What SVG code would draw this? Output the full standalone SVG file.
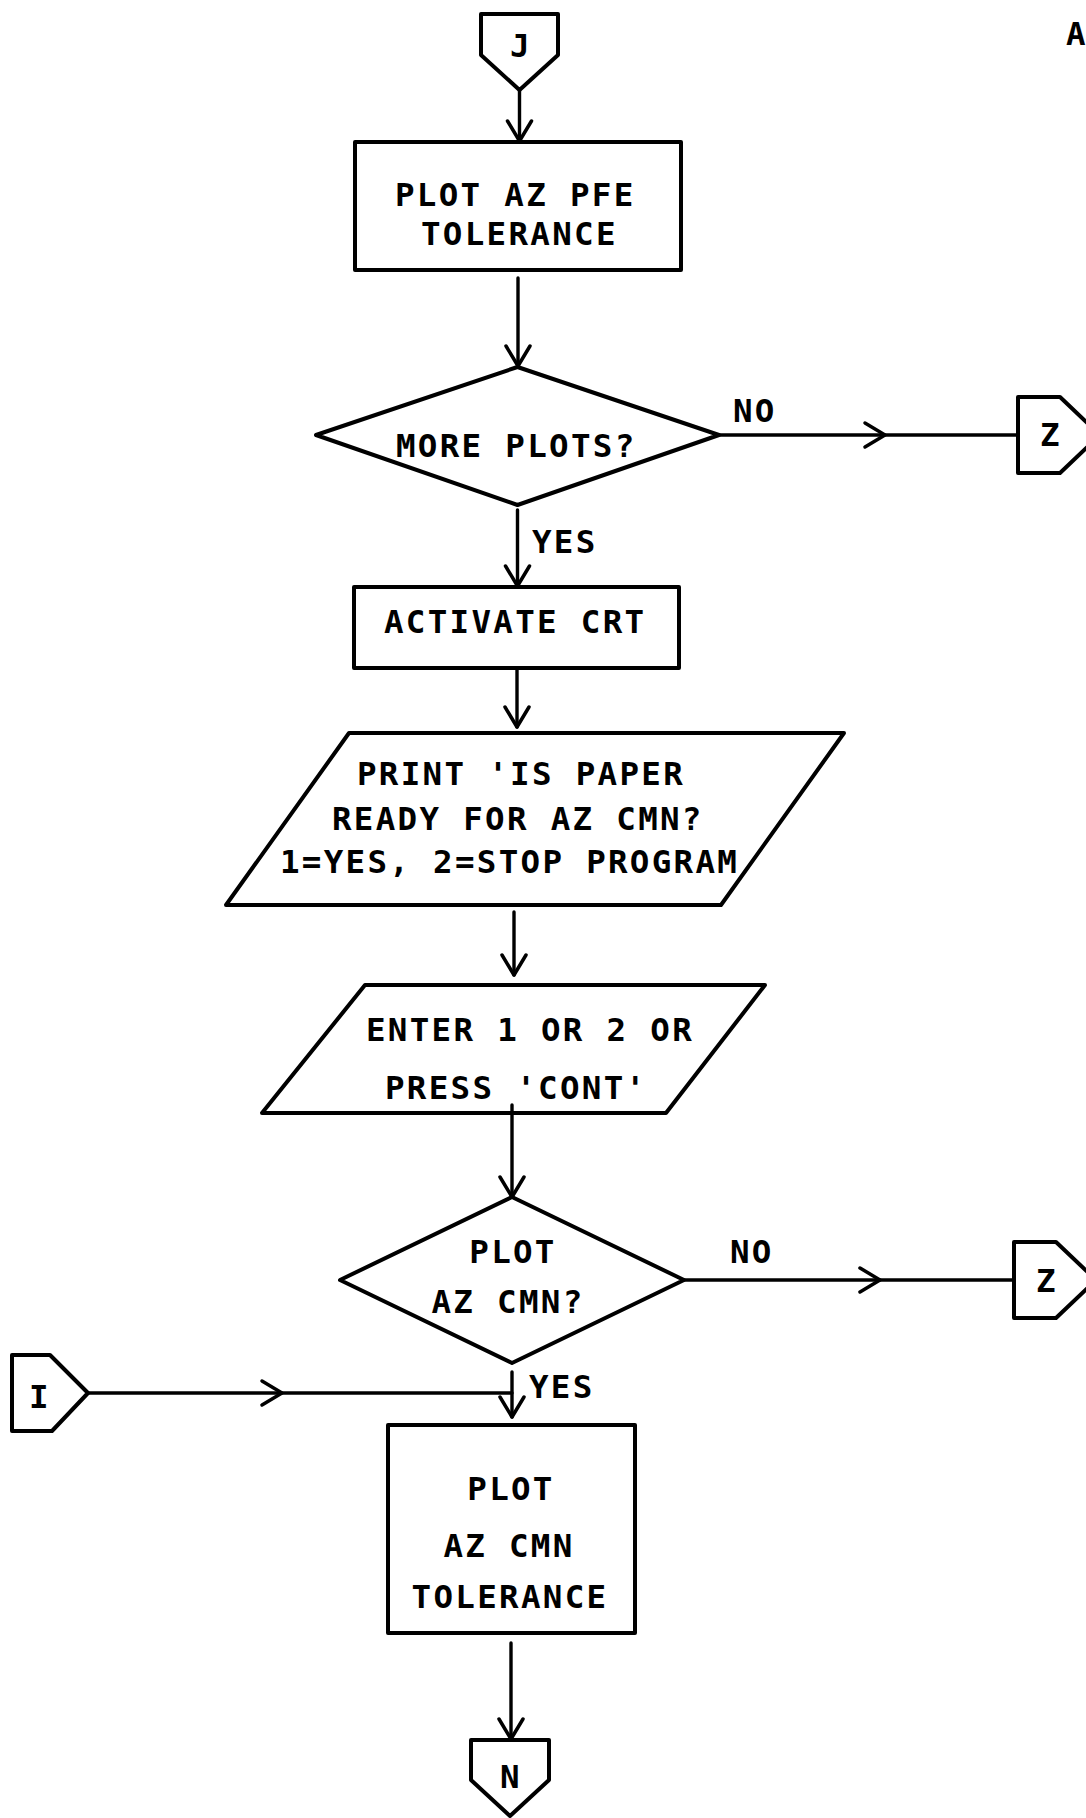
<svg xmlns="http://www.w3.org/2000/svg" width="1086" height="1818" viewBox="0 0 1086 1818">
<style>
.s{fill:none;stroke:#000;stroke-width:4;stroke-linejoin:round;stroke-linecap:round}
.c{fill:none;stroke:#000;stroke-width:3.4;stroke-linecap:round}
text{font-family:"DejaVu Sans Mono","Liberation Mono",monospace;font-weight:bold;font-size:32.5px;letter-spacing:2.3px;fill:#000}
.m{text-anchor:middle}
</style>
<defs>
<marker id="ah" markerUnits="userSpaceOnUse" viewBox="-22 -14 26 28" refX="0" refY="0" markerWidth="26" markerHeight="28" orient="auto" overflow="visible">
<path d="M-20,-12 L0,0 L-20,12" fill="none" stroke="#000" stroke-width="3.5" stroke-linecap="round" stroke-linejoin="round"/>
</marker>
</defs>
<rect width="1086" height="1818" fill="#fff"/>
<text x="1066" y="45">A</text>
<g id="connectors">
<path class="c" d="M519.5,90 L519.5,141" marker-end="url(#ah)"/>
<path class="c" d="M518,278 L518,366" marker-end="url(#ah)"/>
<path class="c" d="M719,435 L885,435 L1018,435" marker-mid="url(#ah)"/>
<path class="c" d="M517.5,510 L517.5,586" marker-end="url(#ah)"/>
<path class="c" d="M517,670 L517,727" marker-end="url(#ah)"/>
<path class="c" d="M514,912 L514,975" marker-end="url(#ah)"/>
<path class="c" d="M512,1105 L512,1197" marker-end="url(#ah)"/>
<path class="c" d="M684,1280 L880,1280 L1014,1280" marker-mid="url(#ah)"/>
<path class="c" d="M512,1372 L512,1417" marker-end="url(#ah)"/>
<path class="c" d="M88,1393 L282,1393 L512,1393" marker-mid="url(#ah)"/>
<path class="c" d="M511,1643 L511,1739" marker-end="url(#ah)"/>
<text x="733" y="422">NO</text>
<text x="532" y="553">YES</text>
<text x="730" y="1263">NO</text>
<text x="529" y="1398">YES</text>
</g>
<g id="J">
<path class="s" d="M481,14 L558,14 L558,55 L519.5,90 L481,55 Z"/>
<text class="m" x="521" y="57">J</text>
</g>
<g id="plot-az-pfe">
<rect class="s" x="355" y="142" width="326" height="128"/>
<text x="395" y="206">PLOT AZ PFE</text>
<text x="421" y="245">TOLERANCE</text>
</g>
<g id="more-plots">
<path class="s" d="M517.5,367 L719,435 L517.5,505 L316,435 Z"/>
<text x="396" y="457">MORE PLOTS?</text>
</g>
<g id="Z1">
<path class="s" d="M1018,397 L1060,397 L1100,435 L1060,473 L1018,473 Z"/>
<text class="m" x="1051" y="446">Z</text>
</g>
<g id="activate-crt">
<rect class="s" x="354" y="587" width="325" height="81"/>
<text x="384" y="633">ACTIVATE CRT</text>
</g>
<g id="print-paper">
<path class="s" d="M349,733 L844,733 L721,905 L226,905 Z"/>
<text x="357" y="785">PRINT 'IS PAPER</text>
<text x="332" y="830">READY FOR AZ CMN?</text>
<text x="280" y="873">1=YES, 2=STOP PROGRAM</text>
</g>
<g id="enter">
<path class="s" d="M365,985 L765,985 L666,1113 L262,1113 Z"/>
<text x="366" y="1041">ENTER 1 OR 2 OR</text>
<text x="385" y="1099">PRESS 'CONT'</text>
</g>
<g id="plot-az-cmn">
<path class="s" d="M512,1197 L684,1280 L512,1363 L340,1280 Z"/>
<text class="m" x="513" y="1263">PLOT</text>
<text class="m" x="508" y="1313">AZ CMN?</text>
</g>
<g id="Z2">
<path class="s" d="M1014,1242 L1056,1242 L1096,1280 L1056,1318 L1014,1318 Z"/>
<text class="m" x="1047" y="1292">Z</text>
</g>
<g id="I">
<path class="s" d="M12,1355 L50,1355 L88,1393 L52,1431 L12,1431 Z"/>
<text class="m" x="40" y="1408">I</text>
</g>
<g id="plot-az-cmn-tol">
<rect class="s" x="388" y="1425" width="247" height="208"/>
<text class="m" x="511" y="1500">PLOT</text>
<text class="m" x="509" y="1557">AZ CMN</text>
<text class="m" x="510" y="1608">TOLERANCE</text>
</g>
<g id="N">
<path class="s" d="M471,1740 L549,1740 L549,1780 L510,1816 L471,1780 Z"/>
<text class="m" x="511" y="1788">N</text>
</g>
</svg>
